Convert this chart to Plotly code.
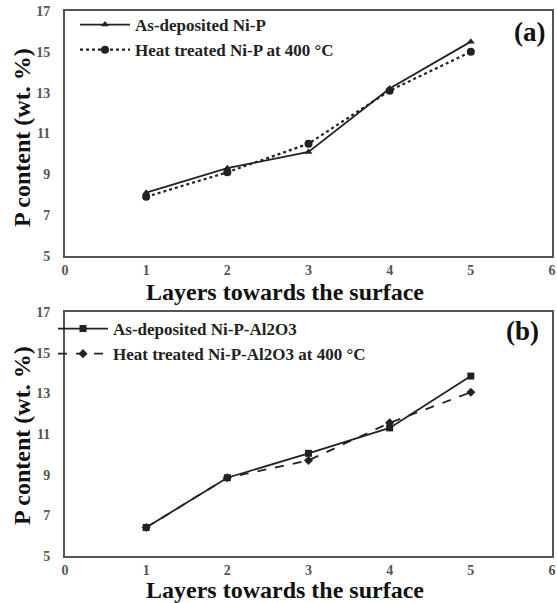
import plotly.graph_objects as go
from plotly.subplots import make_subplots

layers = [1, 2, 3, 4, 5]
a_asdep = [8.1, 9.3, 10.1, 13.2, 15.5]
a_heat = [7.9, 9.1, 10.5, 13.1, 15.0]
b_asdep = [6.4, 8.85, 10.05, 11.3, 13.85]
b_heat = [6.4, 8.85, 9.7, 11.55, 13.05]

names_a = ["As-deposited Ni-P", "Heat treated Ni-P at 400 °C"]
names_b = ["As-deposited Ni-P-Al2O3", "Heat treated Ni-P-Al2O3 at 400 °C"]
x_ticks = [0, 1, 2, 3, 4, 5, 6]
y_ticks = [5, 7, 9, 11, 13, 15, 17]

SERIF = "Liberation Serif, Times New Roman, serif"

fig = make_subplots(rows=2, cols=1, vertical_spacing=0.1)

def b(s):
    return "<b>" + s + "</b>"

fig.add_trace(go.Scatter(x=layers, y=a_asdep, name=b(names_a[0]), mode="lines+markers",
                         line=dict(color="#222", width=1.8, dash="solid"),
                         marker=dict(symbol="triangle-up", size=7, color="#222"),
                         legend="legend"), row=1, col=1)
fig.add_trace(go.Scatter(x=layers, y=a_heat, name=b(names_a[1]), mode="lines+markers",
                         line=dict(color="#222", width=2.2, dash="dot"),
                         marker=dict(symbol="circle", size=8, color="#222"),
                         legend="legend"), row=1, col=1)
fig.add_trace(go.Scatter(x=layers, y=b_asdep, name=b(names_b[0]), mode="lines+markers",
                         line=dict(color="#222", width=1.8, dash="solid"),
                         marker=dict(symbol="square", size=7, color="#222"),
                         legend="legend2"), row=2, col=1)
fig.add_trace(go.Scatter(x=layers, y=b_heat, name=b(names_b[1]), mode="lines+markers",
                         line=dict(color="#222", width=1.8, dash="dash"),
                         marker=dict(symbol="diamond", size=7, color="#222"),
                         legend="legend2"), row=2, col=1)

axis_common = dict(showline=True, mirror=True, linecolor="#555", linewidth=2,
                   showgrid=False, zeroline=False, ticks="",
                   tickfont=dict(family=SERIF, size=14, color="#555", weight="bold"))

for r in (1, 2):
    fig.update_xaxes(range=[0, 6], tickvals=x_ticks, **axis_common, row=r, col=1)
    fig.update_yaxes(range=[5, 17], tickvals=y_ticks, ticklabelstandoff=10,
                     **axis_common, row=r, col=1)

title_font = dict(family=SERIF, size=24, color="#111")

W, H = 557, 603
ML, MR, MT, MB = 65, 5, 11, 47

def px(xpix):
    return (xpix - ML) / (W - ML - MR)

def py(ypix):
    return (H - MB - ypix) / (H - MT - MB)

annotations = [
    dict(text=b("(a)"), x=px(547), y=py(32), xanchor="right", yanchor="middle",
         font=dict(family=SERIF, size=27, color="#111")),
    dict(text=b("(b)"), x=px(541), y=py(331), xanchor="right", yanchor="middle",
         font=dict(family=SERIF, size=27, color="#111")),
    dict(text=b("Layers towards the surface"), x=px(285), y=py(292),
         xanchor="center", yanchor="middle", font=title_font),
    dict(text=b("Layers towards the surface"), x=px(285), y=py(590),
         xanchor="center", yanchor="middle", font=title_font),
    dict(text=b("P content (wt. %)"), x=px(22), y=py(138), textangle=-90,
         xanchor="center", yanchor="middle", font=title_font),
    dict(text=b("P content (wt. %)"), x=px(22), y=py(436), textangle=-90,
         xanchor="center", yanchor="middle", font=title_font),
]
for a in annotations:
    a.update(xref="paper", yref="paper", showarrow=False)

fig.update_layout(
    yaxis=dict(domain=[py(256), 1.0]),
    yaxis2=dict(domain=[0.0, py(312)]),
    width=W, height=H,
    margin=dict(l=ML, r=MR, t=MT, b=MB, autoexpand=False),
    plot_bgcolor="white", paper_bgcolor="white",
    showlegend=True,
    legend=dict(x=px(75), y=py(7), xanchor="left", yanchor="top",
                bgcolor="rgba(0,0,0,0)", itemwidth=50,
                font=dict(family=SERIF, size=17, color="#222")),
    legend2=dict(x=px(53), y=py(311), xanchor="left", yanchor="top",
                 bgcolor="rgba(0,0,0,0)", itemwidth=50,
                 font=dict(family=SERIF, size=17, color="#222")),
    annotations=annotations,
)

fig.write_html("out.html", config={"displayModeBar": False},
               post_script="document.body.style.margin='0px';")
